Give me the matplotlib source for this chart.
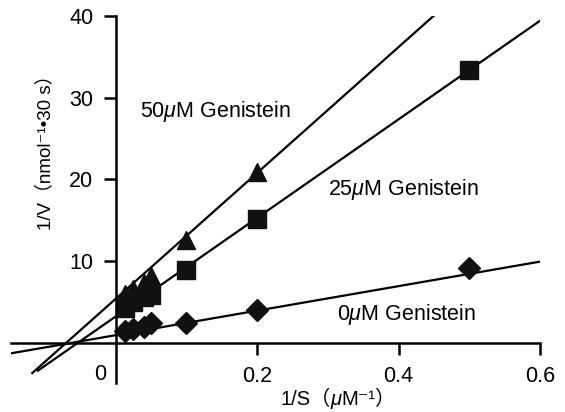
import numpy as np
import matplotlib
matplotlib.use("Agg")
import matplotlib.pyplot as plt
from matplotlib.offsetbox import TextArea, HPacker, AnnotationBbox

plt.rcParams["font.family"] = ["Liberation Sans", "DejaVu Sans", "Noto Sans CJK JP"]
plt.rcParams["mathtext.fontset"] = "custom"
plt.rcParams["mathtext.rm"] = "Liberation Sans"
plt.rcParams["mathtext.it"] = "Liberation Sans:italic"

# 1/S values (uM^-1) and 1/V readings for each genistein level
inv_s = [0.0125, 0.025, 0.04, 0.05, 0.1, 0.2, 0.5]
inv_v_0 = [1.4, 1.7, 2.0, 2.4, 2.4, 4.0, 9.2]
inv_v_25 = [4.3, 5.0, 5.6, 5.9, 8.9, 15.2, 33.4]
inv_s_50 = [0.0125, 0.025, 0.04, 0.05, 0.1, 0.2]
inv_v_50 = [6.0, 6.6, 7.3, 8.2, 12.6, 20.9]

# fitted lines: slope, intercept, x range
fit_slope = [15.0, 60.3, 77.0]
fit_icept = [0.95, 3.24, 5.4]
fit_x0 = [-0.148, -0.11, -0.118]
fit_x1 = [0.6, 0.6, 0.45]

labels = [r"0$\mu$M Genistein", r"25$\mu$M Genistein", r"50$\mu$M Genistein"]
label_xy = [(0.313, 3.5), (0.30, 18.8), (0.035, 28.3)]

fig = plt.figure(figsize=(5.65, 4.12), dpi=100)
ax = fig.add_axes([0.0195, 0.0704, 0.9363, 0.8908])
ax.set_xlim(-0.148, 0.6)
ax.set_ylim(-4.9, 40)

for m, b, x0, x1 in zip(fit_slope, fit_icept, fit_x0, fit_x1):
    xs = np.array([x0, x1])
    ax.plot(xs, m * xs + b, color="black", lw=1.6)

ax.plot(inv_s, inv_v_0, "D", color="#111111", ms=11.5, ls="none")
ax.plot(inv_s, inv_v_25, "s", color="#111111", ms=12.5, ls="none")
ax.plot(inv_s_50, inv_v_50, "^", color="#111111", ms=13.5, ls="none")

for side in ["top", "right"]:
    ax.spines[side].set_visible(False)
ax.spines["left"].set_position(("data", 0))
ax.spines["bottom"].set_position(("data", 0))
ax.spines["left"].set_linewidth(1.8)
ax.spines["bottom"].set_linewidth(1.8)

ax.set_xticks([0.2, 0.4, 0.6])
ax.set_xticklabels(["0.2", "0.4", "0.6"])
ax.set_yticks([10, 20, 30, 40])
ax.tick_params(axis="both", direction="out", length=8.5, width=1.8, labelsize=15.5)
ax.tick_params(axis="x", pad=8)
ax.tick_params(axis="y", pad=7.5)

ax.text(-0.022, -3.9, "0", fontsize=15.5, ha="center", va="center")

for txt, (tx, ty) in zip(labels, label_xy):
    ax.text(tx, ty, txt, fontsize=15.5, va="center")

fig.text(45 / 565, 1 - 148 / 412, "1/V\uff08nmol\u207b\u00b9\u202230 s\uff09", rotation=90,
         fontsize=13.5, ha="center", va="center")

# x label: italic mu between plain pieces
xl_props = dict(fontsize=14.5, family=["Liberation Sans", "DejaVu Sans", "Noto Sans CJK JP"])
xl_box = HPacker(children=[
    TextArea("1/S\uff08", textprops=xl_props),
    TextArea("\u03bc", textprops=dict(xl_props, style="italic")),
    TextArea("M\u207b\u00b9\uff09", textprops=xl_props),
], align="baseline", pad=0, sep=0)
fig.add_artist(AnnotationBbox(xl_box, (338 / 565, 1 - 399 / 412), xycoords="figure fraction",
                              frameon=False, pad=0, box_alignment=(0.5, 0.5)))

fig.savefig("out.png", dpi=100)
